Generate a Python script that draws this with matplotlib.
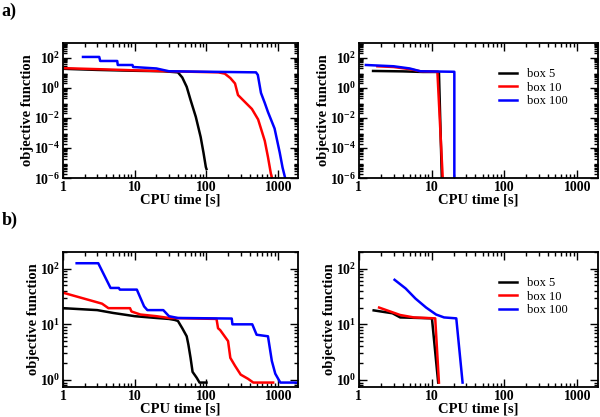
import math
import matplotlib
matplotlib.use('Agg')
import matplotlib.pyplot as plt
from matplotlib.ticker import LogLocator, FuncFormatter, NullFormatter

plt.rcParams['font.family'] = 'Liberation Serif'
plt.rcParams['mathtext.fontset'] = 'custom'
plt.rcParams['mathtext.rm'] = 'Liberation Serif:bold'
plt.rcParams['mathtext.bf'] = 'Liberation Serif:bold'

# panel a, left (log-log, 1e-6 .. 1e3)
a1_t5 = [1, 3, 10, 25, 40, 46, 53, 60, 71, 83, 91, 98, 100]
a1_f5 = [19, 16, 14, 13, 11, 5, 1.2, 0.16, 0.012, 5.4e-4, 4.7e-5, 5.4e-6, 4e-6]
a1_t10 = [1, 3, 10, 30, 147, 180, 215, 250, 275, 355, 430, 525, 650, 720, 790, 820]
a1_f10 = [21, 18, 15, 13, 11, 9, 4.6, 2, 0.34, 0.1, 0.04, 8e-3, 3e-4, 2.5e-5, 2e-6, 1e-6]
a1_t100 = [1.9, 3.2, 3.3, 5.7, 5.8, 9.3, 9.5, 20, 30, 490, 520, 575, 650, 720, 890, 1050, 1150, 1250]
a1_f100 = [117, 117, 63, 63, 34, 34, 25, 20, 13, 11, 7.4, 0.47, 0.1, 0.025, 2e-3, 5e-5, 5e-6, 1e-6]

# panel a, right
a2_t5 = [1.57, 4, 7.6, 12.6, 13.8]
a2_f5 = [13.6, 12.8, 11.7, 11.7, 1e-6]
a2_t10 = [1.8, 3, 5, 7, 12.0, 14.2]
a2_f10 = [28, 25, 18, 13, 12, 1e-6]
a2_t100 = [1.25, 3, 5, 7, 20.5, 20.5]
a2_f100 = [34, 28, 20, 13, 12, 1e-6]

# panel b, left (log-log, 0.75 .. 200)
b1_t5 = [1, 3, 5, 7, 10, 20, 30, 36, 40, 46, 53, 56, 60, 64, 73, 80, 100]
b1_f5 = [19.5, 18, 16, 15, 14, 13, 12.5, 12, 11.5, 8.5, 6.1, 4.3, 2.5, 1.4, 1.1, 0.9, 0.9]
b1_t10 = [1, 3.5, 4.3, 8.6, 9, 12, 20, 30, 138, 145, 155, 200, 215, 250, 300, 380, 450, 850]
b1_f10 = [37, 23.5, 19.5, 19.5, 17, 15, 14, 13, 12.5, 8.5, 7.9, 5, 2.5, 1.8, 1.25, 1.05, 0.9, 0.9]
b1_t100 = [1.55, 3.1, 4.6, 6, 6.2, 10.7, 13.5, 15, 25, 30, 40, 225, 230, 435, 500, 720, 815, 910, 1070, 2000]
b1_f100 = [125, 125, 45, 45, 42, 42, 21, 18, 18, 14, 13, 12.7, 10, 10, 6.5, 6.1, 2.2, 1.3, 0.9, 0.9]

# panel b, right
b2_t5 = [1.6, 2.9, 3.7, 10.1, 12.3]
b2_f5 = [17.8, 15.8, 13.3, 12.8, 0.9]
b2_t10 = [1.9, 3.7, 5.7, 11.2, 12.6]
b2_f10 = [20, 14.7, 13.3, 12.8, 0.9]
b2_t100 = [3.1, 4.4, 6.0, 8.4, 11.5, 14.8, 21.8, 26.6]
b2_f100 = [63, 44, 29, 20, 15, 13.3, 12.8, 0.9]

labels = ['box 5', 'box 10', 'box 100']
colors = ['black', 'red', 'blue']


def fmt_x(v, pos):
    return '%d' % round(v)


def fmt_y(v, pos):
    e = int(round(math.log10(v)))
    return r'$\mathbf{10^{%d}}$' % e


def style(ax, ylim, ymaj_step):
    ax.set_xscale('log')
    ax.set_yscale('log')
    ax.set_xlim(1, 1900)
    ax.set_ylim(*ylim)
    ax.xaxis.set_major_locator(LogLocator(base=10, numticks=10))
    ax.xaxis.set_minor_locator(LogLocator(base=10, subs=range(2, 10), numticks=20))
    ax.xaxis.set_major_formatter(FuncFormatter(fmt_x))
    ax.xaxis.set_minor_formatter(NullFormatter())
    ax.yaxis.set_major_locator(LogLocator(base=10 ** ymaj_step, numticks=20))
    ax.yaxis.set_minor_locator(LogLocator(base=10, subs=range(2, 10), numticks=30))
    ax.yaxis.set_major_formatter(FuncFormatter(fmt_y))
    ax.yaxis.set_minor_formatter(NullFormatter())
    ax.tick_params(which='both', direction='in', top=True, right=True, width=1.0)
    ax.tick_params(which='major', length=6, labelsize=10, pad=2)
    ax.tick_params(which='minor', length=3)
    for lbl in ax.get_xticklabels():
        lbl.set_fontweight('bold')
    for s in ax.spines.values():
        s.set_linewidth(1.3)
    ax.set_xlabel('CPU time [s]', fontsize=10.5, fontweight='bold', labelpad=0)
    ax.set_ylabel('objective function', fontsize=10.5, fontweight='bold', labelpad=0)


fig = plt.figure(figsize=(6, 4.17), dpi=100)
ax1 = fig.add_axes([0.105, 0.573, 0.392, 0.324])
ax2 = fig.add_axes([0.598, 0.573, 0.398, 0.324])
ax3 = fig.add_axes([0.105, 0.072, 0.392, 0.324])
ax4 = fig.add_axes([0.598, 0.072, 0.398, 0.324])

panels = [
    (ax1, [(a1_t5, a1_f5), (a1_t10, a1_f10), (a1_t100, a1_f100)], (1e-6, 1e3), 2),
    (ax2, [(a2_t5, a2_f5), (a2_t10, a2_f10), (a2_t100, a2_f100)], (1e-6, 1e3), 2),
    (ax3, [(b1_t5, b1_f5), (b1_t10, b1_f10), (b1_t100, b1_f100)], (0.75, 200), 1),
    (ax4, [(b2_t5, b2_f5), (b2_t10, b2_f10), (b2_t100, b2_f100)], (0.75, 200), 1),
]

for ax, series, ylim, step in panels:
    for (t, f), c, lab in zip(series, colors, labels):
        ax.plot(t, f, color=c, lw=1.8, label=lab)
    style(ax, ylim, step)

for ax in (ax2, ax4):
    ax.legend(loc='upper left', bbox_to_anchor=(0.565, 0.85), borderaxespad=0,
              frameon=False, fontsize=9, handlelength=1.5, handletextpad=0.8,
              labelspacing=0.12)

fig.text(0.003, 0.993, 'a)', fontsize=13, fontweight='bold', va='top')
fig.text(0.003, 0.493, 'b)', fontsize=13, fontweight='bold', va='top')

fig.savefig('out.png', dpi=100)
